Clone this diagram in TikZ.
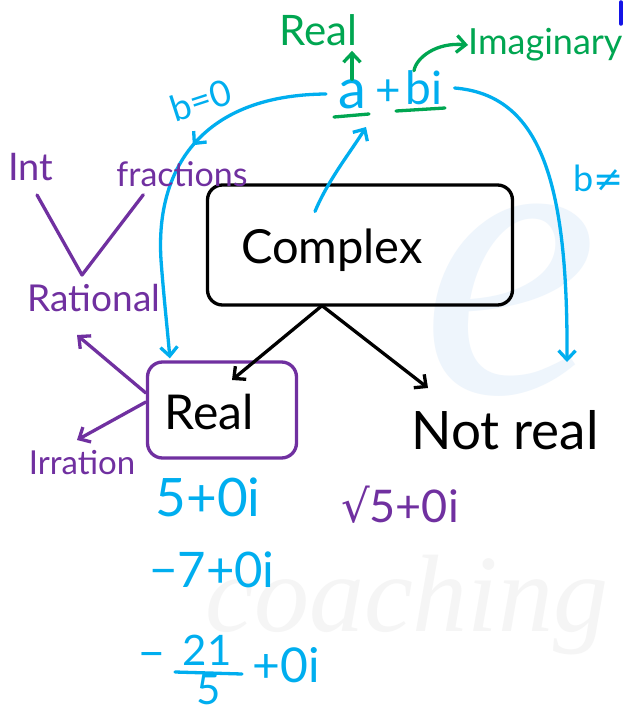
\documentclass[tikz,border=0pt]{standalone}
\usepackage{fontspec}
\setmainfont{Lato}
\newfontfamily\dvs{DejaVu Sans}
\newfontfamily\wmfont{Liberation Serif}
\usetikzlibrary{arrows.meta,calc,decorations.markings}
\definecolor{hblue}{RGB}{0,174,239}
\definecolor{hgreen}{RGB}{0,166,81}
\definecolor{hpurple}{RGB}{112,48,160}
\definecolor{wmblue}{RGB}{238,245,252}
\definecolor{wmgray}{RGB}{245,245,245}
\definecolor{dblue}{RGB}{20,20,230}
\newcommand{\fs}[1]{\fontsize{#1}{#1}\selectfont}
\begin{document}
\begin{tikzpicture}[x=1pt,y=-1pt,line cap=round,line join=round,
  lbl/.style={inner sep=0pt},
  ink/.style={line width=3.3pt},
  tip/.style={-{Straight Barb[length=9pt,width=17pt,line width=3.3pt]}},
  box/.style={draw,ink,rounded corners=15pt}
]
\useasboundingbox (0,0) rectangle (623,712);
\fill[white] (0,0) rectangle (623,712);
% watermark
\node[lbl,text=wmblue,font=\wmfont\fs{400}\itshape] (wme) at (510,300) {e};
\node[lbl,text=wmgray,font=\wmfont\fs{110}\itshape,anchor=west] (wmc) at (205,605) {coaching};
% top expression
\node[lbl,text=hgreen,font=\fs{42}] (greal) at (318,30) {Real};
\node[lbl,text=hgreen,font=\fs{36},anchor=west] (imag) at (468,45) {Imaginary};
\node[lbl,text=hblue,font=\fs{56}] (ta) at (352,94) {a};
\node[lbl,text=hblue,font=\fs{44}] (tplus) at (388,93) {+};
\node[lbl,text=hblue,font=\fs{46}] (tbi) at (424,88) {bi};
\draw[hgreen,ink] (334,117) -- (369,114);
\draw[hgreen,ink] (396,111) -- (445,108);
\draw[hgreen,ink,tip] (ta.north) -- ($(ta.north |- greal.south)+(0,5)$);
\draw[hgreen,ink,tip] ([xshift=-10pt]tbi.north) .. controls (416,58) and (436,42) .. (imag.west);
\draw[dblue,line width=3.5pt] (621,2) -- (621,24);
% labels on curves
\node[lbl,text=hblue,font=\fs{36},rotate=18] (bz) at (201,100) {b=0};
\node[lbl,text=hblue,font=\fs{36},anchor=west] (bne) at (573,178) {b{\dvs ≠}};
% boxes
\node[box,minimum width=305pt,minimum height=120pt] (cbox) at (360,245) {};
\node[lbl,font=\fs{47}] (ctext) at (332,250) {Complex};
\node[box,draw=hpurple,minimum width=149pt,minimum height=96pt] (rbox) at (222,410) {};
\node[lbl,font=\fs{48}] (rtext) at (209,412) {Real};
\node[lbl,font=\fs{53}] (ntext) at (505,430) {Not real};
% coordinates
\coordinate (ain) at (366,127);
\coordinate (rin) at (232,380);
\coordinate (nin) at (428,388);
\coordinate (nrin) at (567,362);
\coordinate (ratin) at (77,335);
\coordinate (irrin) at (77,440);
\coordinate (apex) at (82,275);
% blue curves
\draw[hblue,ink,tip,postaction={decorate},
  decoration={markings,mark=at position 0.40 with {\arrow{Straight Barb[length=9pt,width=17pt,line width=3.3pt]}}}]
  ([xshift=-12pt]ta.west) .. controls (205,95) and (155,165) .. (161,260)
  .. controls (164,300) and (168,335) .. ($(rbox.north west)+(24,-2)$);
\draw[hblue,ink,tip] ([xshift=12pt]tbi.east) .. controls (540,95) and (568,180) .. (nrin);
\draw[hblue,ink,tip] ($(ctext.north)+(-17,-17)$) .. controls (328,180) and (352,150) .. (ain);
% black arrows
\draw[ink,tip] ($(cbox.south)+(-38,-1)$) -- (rin);
\draw[ink,tip] ($(cbox.south)+(-38,-1)$) -- (nin);
% purple
\node[lbl,text=hpurple,font=\fs{38}] (int) at (31,167) {Int};
\node[lbl,text=hpurple,font=\fs{34}] (frac) at (182,174) {fractions};
\node[lbl,text=hpurple,font=\fs{37}] (rat) at (94,298) {Rational};
\node[lbl,text=hpurple,font=\fs{33}] (irr) at (82,463) {Irration};
\draw[hpurple,ink] ($(int.south)+(6,14)$) -- (apex) -- ($(frac.south west)+(27,8)$);
\draw[hpurple,ink,tip] ($(rbox.west)+(0,-17)$) -- (ratin);
\draw[hpurple,ink,tip] ($(rbox.west)+(0,-8)$) -- (irrin);
% examples
\node[lbl,text=hblue,font=\fs{53}] (e1) at (208,497) {5+0i};
\node[lbl,text=hblue,font=\fs{49}] (e2) at (212,570) {−7+0i};
\node[lbl,text=hblue,font=\fs{46}] (e3m) at (152,661) {−};
\node[lbl,text=hblue,font=\fs{42}] (e3n) at (207,650) {21};
\node[lbl,text=hblue,font=\fs{42}] (e3d) at (209,690) {5};
\draw[hblue,ink] (175,672) -- (242,674);
\node[lbl,text=hblue,font=\fs{48}] (e3r) at (286,665) {+0i};
\node[lbl,text=hpurple,font=\fs{45}] (e4) at (400,505) {{\dvs √}5+0i};
\end{tikzpicture}
\end{document}
